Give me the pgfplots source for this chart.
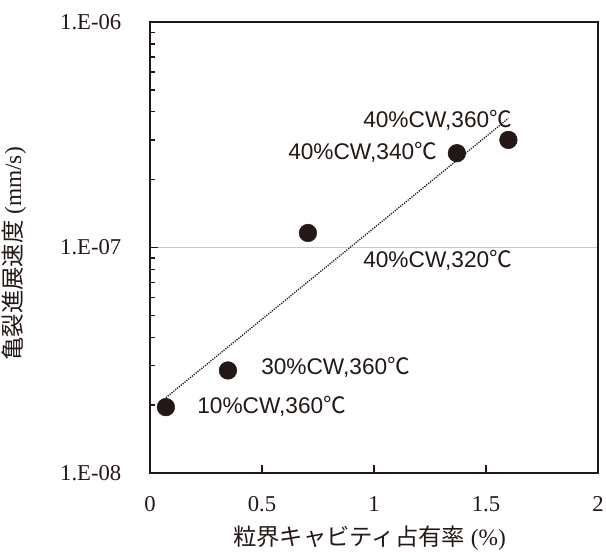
\documentclass[border=0pt]{standalone}
\usepackage{fontspec}
\setmainfont{Liberation Serif}
\newfontfamily\cjk{Noto Sans CJK JP}
\newfontfamily\lsans{Liberation Sans}
\usepackage{pgfplots}
\pgfplotsset{compat=1.18}
\definecolor{ink}{HTML}{231815}
\definecolor{gridc}{HTML}{C8C8C8}
\newcommand{\lab}[1]{{\lsans\fontsize{17}{20}\selectfont #1{\cjk ℃}}}
\begin{document}
\begin{tikzpicture}
\begin{axis}[
  name=ax,
  scale only axis,
  width=336pt, height=338.25pt,
  xmin=0, xmax=2,
  ymode=log, ymin=1e-8, ymax=1e-6,
  axis line style={ink, line width=0.8pt},
  tick pos=left,
  tick align=inside,
  major tick length=6pt,
  minor tick length=4pt,
  every tick/.style={ink, line width=1pt},
  /pgf/number format/assume math mode=true,
  xtick={0,0.5,1,1.5,2},
  xticklabels={0,0.5,1,1.5,2},
  ytick={1e-8,1e-7,1e-6},
  yticklabels={1.E-08,1.E-07,1.E-06},
  minor ytick={2e-8,3e-8,4e-8,5e-8,6e-8,7e-8,8e-8,9e-8,2e-7,3e-7,4e-7,5e-7,6e-7,7e-7,8e-7,9e-7},
  ymajorgrids,
  major grid style={gridc, line width=0.9pt},
  ticklabel style={font=\fontsize{17}{20}\selectfont, text=ink},
  yticklabel style={xshift=-18pt},
  xticklabel style={yshift=-14pt},
  xlabel={{\cjk 粒界キャビティ占有率} (\%)},
  ylabel={{\cjk 亀裂進展速度} (mm/s)},
  label style={font=\fontsize{17.5}{20}\selectfont, text=ink},
  xlabel style={at={(axis description cs:0.49,0)}, anchor=center, yshift=-48.5pt},
  ylabel style={at={(axis description cs:-0.304,0.486)}, anchor=center},
  clip=false,
]
\addplot[ink, line width=1pt, dash pattern=on 0.9pt off 0.9pt] coordinates {(0.071,2.16e-8) (1.6,3.74e-7)};
\addplot[only marks, mark=*, mark size=6.6pt, mark options={fill=ink, draw=ink}] coordinates {
(0.071,1.96e-8) (0.348,2.85e-8) (0.705,1.16e-7) (1.37,2.62e-7) (1.60,3.0e-7)};
\node[anchor=west, inner sep=0pt, text=ink] at (axis cs:0.951,3.68e-7) {\lab{40\%CW,360}};
\node[anchor=west, inner sep=0pt, text=ink] at (axis cs:0.616,2.65e-7) {\lab{40\%CW,340}};
\node[anchor=west, inner sep=0pt, text=ink] at (axis cs:0.951,8.80e-8) {\lab{40\%CW,320}};
\node[anchor=west, inner sep=0pt, text=ink] at (axis cs:0.4955,2.95e-8) {\lab{30\%CW,360}};
\node[anchor=west, inner sep=0pt, text=ink] at (axis cs:0.21,1.98e-8) {\lab{10\%CW,360}};
\draw[ink, line width=1.8pt] (rel axis cs:0,1) -- (rel axis cs:0,0) -- (rel axis cs:1,0);
\end{axis}
\pgfresetboundingbox
\path ([xshift=-112.5pt,yshift=-59.25pt]ax.south west) rectangle ([xshift=6pt,yshift=16.5pt]ax.north east);
\end{tikzpicture}
\end{document}
